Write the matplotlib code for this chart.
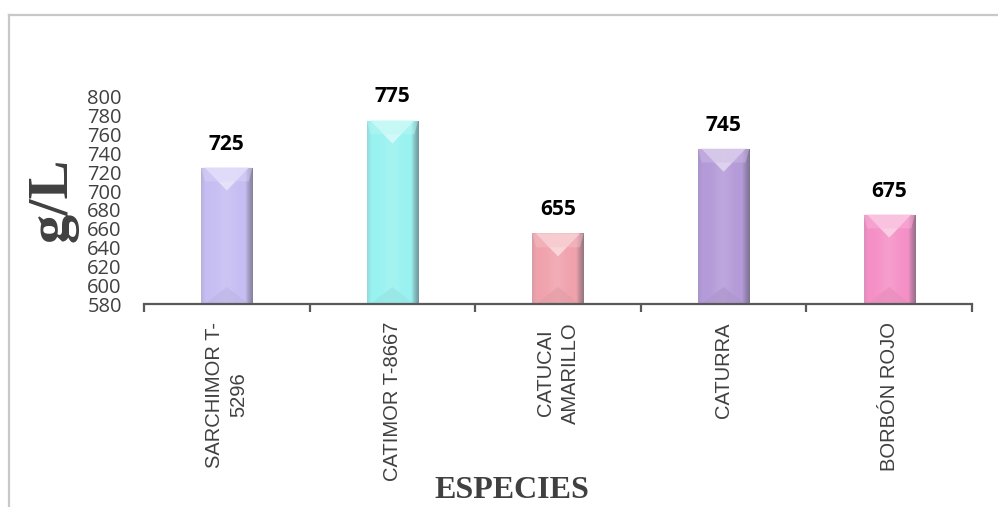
import numpy as np
import matplotlib
matplotlib.use("Agg")
import matplotlib.pyplot as plt
from matplotlib.colors import to_rgb
from matplotlib.lines import Line2D
from matplotlib.patches import Polygon

# Data
categories = ["SARCHIMOR T-\n5296", "CATIMOR T-8667", "CATUCAI\nAMARILLO", "CATURRA", "BORBÓN ROJO"]
values = [725, 775, 655, 745, 675]
bar_colors = ["#c6bdf2", "#98f2f0", "#f0a2ac", "#b49ad8", "#f590c6"]
yticks = list(range(580, 801, 20))
ylabel = "g/L"
xlabel = "ESPECIES"

GRAY = "#404040"
AXIS = "#595959"

fig = plt.figure(figsize=(9.98, 5.07), dpi=100)
fig.patch.set_facecolor("white")

# light frame around the chart area (left and top edges)
fig.add_artist(Line2D([9 / 998, 9 / 998], [0, 1 - 15 / 507], transform=fig.transFigure,
                      color="#c8c8c8", lw=1.6))
fig.add_artist(Line2D([9 / 998, 1.0], [1 - 15 / 507, 1 - 15 / 507], transform=fig.transFigure,
                      color="#c8c8c8", lw=1.6))

ax = fig.add_axes([144 / 998, 203 / 507, 828 / 998, 207 / 507])
ax.set_xlim(-0.5, len(categories) - 0.5)
ax.set_ylim(yticks[0], yticks[-1])

x = np.arange(len(categories))
bar_w = 0.31
bars = ax.bar(x, values, width=bar_w, color=bar_colors, zorder=2, linewidth=0)


def mix(c, other, t):
    c = np.asarray(c)
    return c * (1 - t) + np.asarray(other) * t


ymin = ax.get_ylim()[0]
px_per_unit = (207) / (ax.get_ylim()[1] - ax.get_ylim()[0])
top_depth = 23 / px_per_unit
bot_depth = 17 / px_per_unit

for rect, col in zip(bars, bar_colors):
    base = np.array(to_rgb(col))
    x0 = rect.get_x()
    w = rect.get_width()
    x1 = x0 + w
    top = rect.get_height()
    # horizontal shading profile for the bevelled look
    n = 80
    u = np.linspace(0, 1, n)
    cols = np.empty((n, 3))
    for i, t in enumerate(u):
        c = mix(base, (1, 1, 1), 0.12 * np.exp(-((t - 0.48) / 0.18) ** 2))
        if t < 0.08:
            c = mix(c, (0.55, 0.55, 0.6), 0.25 * (1 - t / 0.08))
        elif t > 0.86:
            c = mix(c, (0.35, 0.35, 0.4), 0.6 * ((t - 0.86) / 0.14) ** 0.8)
        cols[i] = c
    img = np.tile(cols[None, :, :], (2, 1, 1))
    im = ax.imshow(img, extent=(x0, x1, ymin, top), aspect="auto",
                   interpolation="bilinear", zorder=3)
    im.set_clip_path(rect)
    inset = w * 0.07
    # light top facet
    ax.add_patch(Polygon([(x0 + inset, top), (x1 - inset, top), (x0 + w / 2, top - top_depth)],
                         closed=True, facecolor=mix(base, (1, 1, 1), 0.6), edgecolor="none",
                         alpha=0.9, zorder=4))
    ax.add_patch(Polygon([(x0, top), (x1, top), (x1 - inset, top - 0.6 * top_depth),
                          (x0 + inset, top - 0.6 * top_depth)],
                         closed=True, facecolor=mix(base, (1, 1, 1), 0.35), edgecolor="none",
                         alpha=0.45, zorder=4))
    # subtle bottom facet
    ax.add_patch(Polygon([(x0 + inset, ymin), (x1 - inset, ymin), (x0 + w / 2, ymin + bot_depth)],
                         closed=True, facecolor=mix(base, (0.5, 0.5, 0.5), 0.12), edgecolor="none",
                         alpha=0.7, zorder=4))
    # value label
    ax.annotate(f"{top:g}", xy=(x0 + w / 2, top), xytext=(0, 13), textcoords="offset points",
                ha="center", va="baseline", fontsize=15, fontweight="bold",
                family=["Open Sans", "DejaVu Sans"], color="black", zorder=5,
                annotation_clip=False)

# axes styling
for s in ("left", "top", "right"):
    ax.spines[s].set_visible(False)
ax.spines["bottom"].set_color(AXIS)
ax.spines["bottom"].set_linewidth(1.6)
ax.spines["bottom"].set_zorder(6)

ax.set_yticks(yticks)
ax.set_yticklabels([str(v) for v in yticks], family=["Open Sans", "DejaVu Sans"],
                   fontsize=14.5, color=GRAY)
ax.tick_params(axis="y", length=0, pad=16)

ax.set_xticks(x)
ax.set_xticklabels(categories, rotation=90, ha="center", va="top", multialignment="center",
                   family=["Liberation Sans", "DejaVu Sans"], fontsize=14.5, color=GRAY,
                   linespacing=1.35)
ax.tick_params(axis="x", which="major", length=0, pad=13)
ax.set_xticks(np.arange(-0.5, len(categories), 1.0), minor=True)
ax.tick_params(axis="x", which="minor", length=6, width=1.6, color=AXIS, direction="out")

fig.text(53 / 998, 1 - 200 / 507, ylabel, rotation=90, ha="center", va="center",
         family=["Liberation Serif", "DejaVu Serif"], fontweight="bold", fontsize=42, color=GRAY)
fig.text(512 / 998, 1 - 491 / 507, xlabel, ha="center", va="center",
         family=["Liberation Serif", "DejaVu Serif"], fontweight="bold", fontsize=23, color=GRAY)

fig.savefig("out.png", dpi=100, facecolor="white")
